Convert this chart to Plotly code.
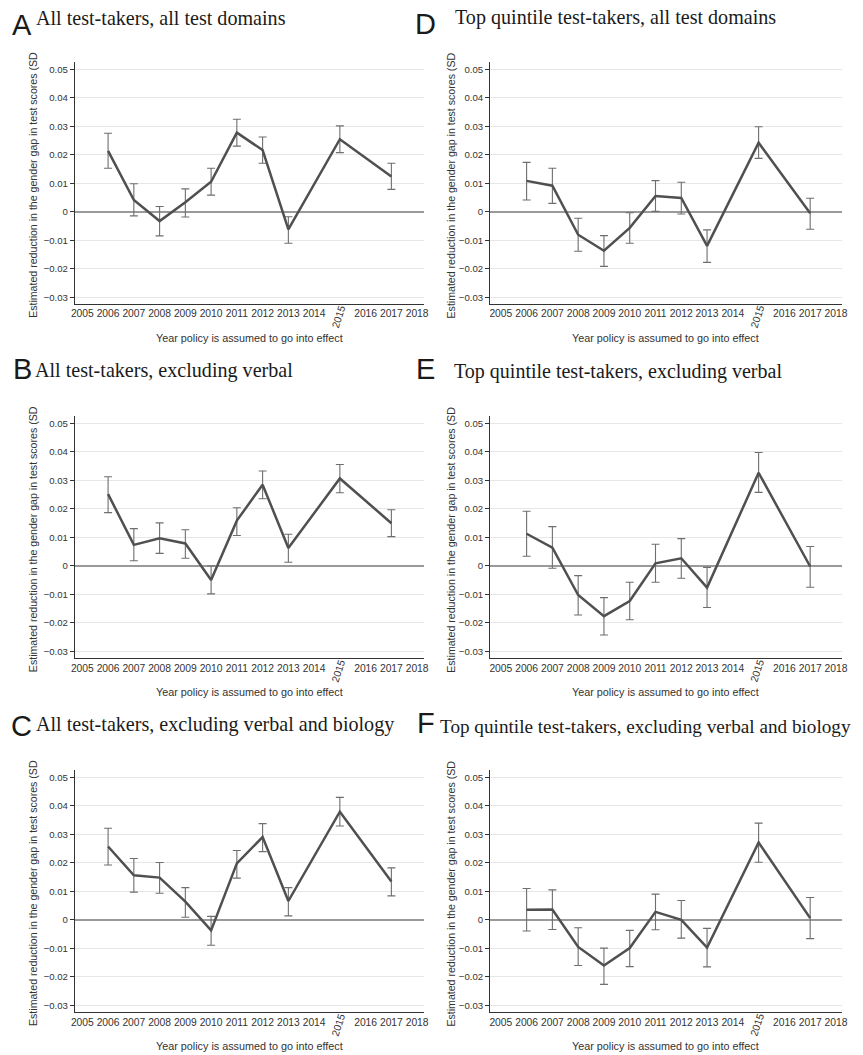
import plotly.graph_objects as go

W, H = 863, 1055

years = [2006, 2007, 2008, 2009, 2010, 2011, 2012, 2013, 2015, 2017]
x_tick_years = list(range(2005, 2019))
rotated_tick_year = 2015
y_tick_vals = [-0.03, -0.02, -0.01, 0, 0.01, 0.02, 0.03, 0.04, 0.05]
y_tick_text = ["\u22120.03", "\u22120.02", "\u22120.01", "0", "0.01", "0.02", "0.03", "0.04", "0.05"]

panel_letters = ["A", "B", "C", "D", "E", "F"]
panel_titles = [
    "All test-takers, all test domains",
    "All test-takers, excluding verbal",
    "All test-takers, excluding verbal and biology",
    "Top quintile test-takers, all test domains",
    "Top quintile test-takers, excluding verbal",
    "Top quintile test-takers, excluding verbal and biology",
]
y_title = "Estimated reduction in the gender gap in test scores (SD"
x_title = "Year policy is assumed to go into effect"

a_est = [0.0213, 0.0041, -0.0033, 0.0033, 0.0105, 0.0277, 0.0216, -0.0062, 0.0254, 0.0123]
a_hi = [0.0275, 0.0098, 0.0018, 0.0080, 0.0152, 0.0324, 0.0262, -0.0018, 0.0301, 0.0170]
a_lo = [0.0152, -0.0015, -0.0085, -0.0019, 0.0058, 0.0230, 0.0170, -0.0111, 0.0207, 0.0078]

b_est = [0.0252, 0.0074, 0.0097, 0.0079, -0.0049, 0.0159, 0.0285, 0.0063, 0.0307, 0.0150]
b_hi = [0.0313, 0.0131, 0.0151, 0.0127, 0.0000, 0.0204, 0.0333, 0.0111, 0.0356, 0.0197]
b_lo = [0.0187, 0.0018, 0.0044, 0.0027, -0.0098, 0.0107, 0.0236, 0.0013, 0.0257, 0.0103]

c_est = [0.0257, 0.0156, 0.0148, 0.0064, -0.0037, 0.0198, 0.0290, 0.0066, 0.0379, 0.0134]
c_hi = [0.0321, 0.0215, 0.0201, 0.0113, 0.0012, 0.0243, 0.0337, 0.0113, 0.0429, 0.0182]
c_lo = [0.0192, 0.0097, 0.0093, 0.0009, -0.0089, 0.0146, 0.0239, 0.0014, 0.0329, 0.0084]

d_est = [0.0108, 0.0091, -0.0081, -0.0137, -0.0057, 0.0055, 0.0048, -0.0120, 0.0242, -0.0006]
d_hi = [0.0173, 0.0152, -0.0023, -0.0084, -0.0004, 0.0109, 0.0103, -0.0064, 0.0298, 0.0047]
d_lo = [0.0041, 0.0029, -0.0139, -0.0192, -0.0111, 0.0001, -0.0008, -0.0178, 0.0187, -0.0062]

e_est = [0.0113, 0.0064, -0.0102, -0.0176, -0.0123, 0.0009, 0.0027, -0.0076, 0.0327, -0.0002]
e_hi = [0.0192, 0.0138, -0.0034, -0.0111, -0.0057, 0.0076, 0.0096, -0.0005, 0.0398, 0.0068]
e_lo = [0.0034, -0.0008, -0.0172, -0.0242, -0.0189, -0.0057, -0.0043, -0.0146, 0.0258, -0.0075]

f_est = [0.0035, 0.0036, -0.0095, -0.0160, -0.0099, 0.0028, 0.0000, -0.0097, 0.0271, 0.0006]
f_hi = [0.0110, 0.0105, -0.0028, -0.0099, -0.0037, 0.0090, 0.0068, -0.0030, 0.0339, 0.0078]
f_lo = [-0.0039, -0.0034, -0.0160, -0.0226, -0.0164, -0.0035, -0.0064, -0.0165, 0.0202, -0.0066]

panels = [(a_est, a_lo, a_hi), (b_est, b_lo, b_hi), (c_est, c_lo, c_hi),
          (d_est, d_lo, d_hi), (e_est, e_lo, e_hi), (f_est, f_lo, f_hi)]

SANS = "Liberation Sans, Arial, Helvetica, sans-serif"
SERIF = "Liberation Serif, Times New Roman, serif"

# pixel layout
col_x = [(71.7, 425.0), (491.7, 847.7)]
row_y = [(62.0, 304.0), (416.3, 658.3), (770.0, 1012.3)]
x_ranges = [[2004.71, 2018.27], [2004.58, 2018.23]]
y_range = [-0.0324, 0.0525]

letter_pos = [(18.7, 25.5), (19.0, 369.0), (18.0, 725.5), (426.3, 24.5), (426.5, 368.5), (426.5, 723.0)]
title_pos = [(30.5, 17.8), (29.8, 371.0), (30.5, 724.5), (454.3, 17.0), (453.3, 371.3), (438.8, 726.7)]
title_sizes = [20.1, 20.1, 20.1, 20.1, 20.0, 19.2]
ytitle_dx = [-42.5, -39.0]

def px(x):
    return x / W

def py(y):
    return 1 - y / H

fig = go.Figure()
layout = dict(
    width=W, height=H, margin=dict(l=0, r=0, t=0, b=0),
    paper_bgcolor="white", plot_bgcolor="white", showlegend=False,
    font=dict(family=SANS, color="#333333"),
)
annotations = []

for i, (est, lo, hi) in enumerate(panels):
    col = i // 3
    row = i % 3
    n = i + 1
    xa = "xaxis" if n == 1 else f"xaxis{n}"
    ya = "yaxis" if n == 1 else f"yaxis{n}"
    xr = "x" if n == 1 else f"x{n}"
    yr = "y" if n == 1 else f"y{n}"
    x0, x1 = col_x[col]
    y0, y1 = row_y[row]
    layout[xa] = dict(
        domain=[px(x0), px(x1)], range=x_ranges[col], anchor=yr,
        tickvals=x_tick_years,
        ticktext=["" if v == rotated_tick_year else str(v) for v in x_tick_years],
        ticks="", showgrid=False, zeroline=False,
        showline=True, linecolor="#333333", linewidth=1,
        tickfont=dict(family=SANS, size=10.3, color="#333333"),
        fixedrange=True,
    )
    layout[ya] = dict(
        domain=[py(y1), py(y0)], range=y_range, anchor=xr,
        tickvals=y_tick_vals, ticktext=y_tick_text,
        ticks="outside", ticklen=4, tickwidth=1, tickcolor="#333333",
        showgrid=True, gridcolor="#e6e6e6", gridwidth=1,
        zeroline=True, zerolinecolor="#9a9a9a", zerolinewidth=1.5,
        showline=True, linecolor="#333333", linewidth=1,
        tickfont=dict(family=SANS, size=9.6, color="#333333"),
        fixedrange=True,
    )
    fig.add_trace(go.Scatter(
        x=years, y=est, xaxis=xr, yaxis=yr, mode="lines",
        line=dict(color="#505050", width=2.5),
        error_y=dict(type="data", symmetric=False,
                     array=[h - e for h, e in zip(hi, est)],
                     arrayminus=[e - l for e, l in zip(est, lo)],
                     color="#6e6e6e", thickness=1.1, width=4),
        hoverinfo="skip",
    ))
    # rotated 2015 tick label
    annotations.append(dict(
        x=rotated_tick_year, xref=xr, y=0, yref=f"{yr} domain",
        text=str(rotated_tick_year), showarrow=False, textangle=-72,
        xanchor="center", yanchor="middle", yshift=-12.5, xshift=-1,
        font=dict(family=SANS, size=10.3, color="#333333"),
    ))
    # x axis title
    annotations.append(dict(
        x=0.5, xref=f"{xr} domain", y=0, yref=f"{yr} domain",
        text=x_title, showarrow=False, xanchor="center", yanchor="middle",
        yshift=-34, font=dict(family=SANS, size=10.8, color="#333333"),
    ))
    # y axis title
    annotations.append(dict(
        x=px(x0 + ytitle_dx[col]), xref="paper", y=py((y0 + y1) / 2 + 2), yref="paper",
        text=y_title, showarrow=False, textangle=-90, xanchor="center", yanchor="middle",
        font=dict(family=SANS, size=10.6, color="#333333"),
    ))
    # panel letter
    lx, ly = letter_pos[i]
    annotations.append(dict(
        x=px(lx), y=py(ly), xref="paper", yref="paper", text=panel_letters[i],
        showarrow=False, xanchor="center", yanchor="middle",
        font=dict(family=SANS, size=29, color="#1a1a1a"),
    ))
    tx, ty = title_pos[i]
    annotations.append(dict(
        x=px(tx), y=py(ty), xref="paper", yref="paper", text=panel_titles[i],
        showarrow=False, xanchor="left", yanchor="middle",
        font=dict(family=SERIF, size=title_sizes[i], color="#1a1a1a"),
    ))

layout["annotations"] = annotations
fig.update_layout(**layout)
fig.write_html("out.html", config={"displayModeBar": False},
               post_script="document.body.style.margin='0';document.body.style.overflow='hidden';")
